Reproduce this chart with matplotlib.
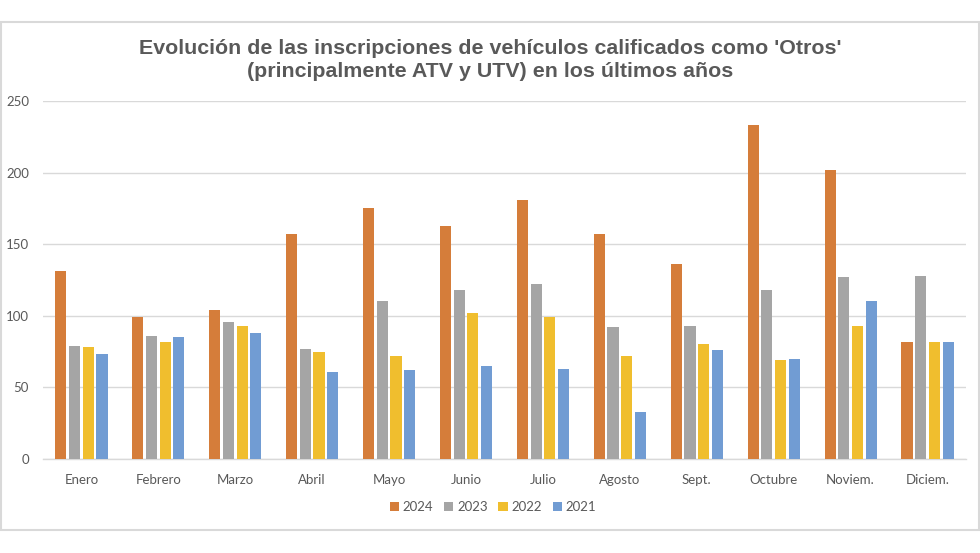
import matplotlib
matplotlib.use("Agg")
import matplotlib.pyplot as plt
import numpy as np
from matplotlib.patches import Rectangle

months = ["Enero", "Febrero", "Marzo", "Abril", "Mayo", "Junio", "Julio",
          "Agosto", "Sept.", "Octubre", "Noviem.", "Diciem."]
years = ["2024", "2023", "2022", "2021"]
v2024 = [131, 99, 104, 157, 175, 163, 181, 157, 136, 233, 202, 82]
v2023 = [79, 86, 96, 77, 110, 118, 122, 92, 93, 118, 127, 128]
v2022 = [78, 82, 93, 75, 72, 102, 99, 72, 80, 69, 93, 82]
v2021 = [73, 85, 88, 61, 62, 65, 63, 33, 76, 70, 110, 82]
series = [v2024, v2023, v2022, v2021]
colors = ["#D57D3A", "#A5A5A5", "#F0BE2E", "#719CD3"]
yticks = [0, 50, 100, 150, 200, 250]

plt.rcParams['font.family'] = ['Lato', 'DejaVu Sans']

fig = plt.figure(figsize=(9.8, 5.53), dpi=100)
fig.patch.set_facecolor("white")
# outer frame
fig.patches.append(Rectangle((1/980, 1 - 530/553), 978/980, (530 - 22)/553,
                             transform=fig.transFigure, fill=False,
                             edgecolor="#D9D9D9", linewidth=1.5, zorder=0))

ax = fig.add_axes([43/980, 1 - 459/553, (966 - 43)/980, (459 - 101)/553])
x = np.arange(len(months))
pitch = 0.178
width = 0.145
for i, (vals, c, lab) in enumerate(zip(series, colors, years)):
    ax.bar(x + (i - 1.5) * pitch, vals, width=width, color=c, label=lab, zorder=3)

ax.set_xlim(-0.5, len(months) - 0.5)
ax.set_ylim(0, 250)
ax.set_yticks(yticks)
ax.set_xticks(x)
ax.set_xticklabels(months)
ax.yaxis.grid(True, color="#D9D9D9", linewidth=1, zorder=0)
ax.set_axisbelow(True)
for s in ["top", "right", "left"]:
    ax.spines[s].set_visible(False)
ax.spines["bottom"].set_color("#D9D9D9")
ax.spines["bottom"].set_linewidth(1)
ax.tick_params(axis="both", length=0, colors="#595959", labelsize=9.5)
ax.tick_params(axis="y", pad=10)
ax.tick_params(axis="x", pad=11)

fig.text(0.5, 1 - 60/553,
         "Evolución de las inscripciones de vehículos calificados como 'Otros'\n"
         "(principalmente ATV y UTV) en los últimos años",
         ha="center", va="center", fontsize=15.4, fontweight="bold",
         color="#595959", family=["Liberation Sans", "DejaVu Sans"],
         linespacing=1.3)

leg = fig.legend(loc="center", bbox_to_anchor=(493/980, 1 - 507/553), ncol=4,
                 frameon=False, fontsize=9.5, handlelength=0.7, handleheight=0.7,
                 handletextpad=0.3, columnspacing=0.8)
for t in leg.get_texts():
    t.set_color("#595959")

fig.savefig("out.png", dpi=100, facecolor="white")
